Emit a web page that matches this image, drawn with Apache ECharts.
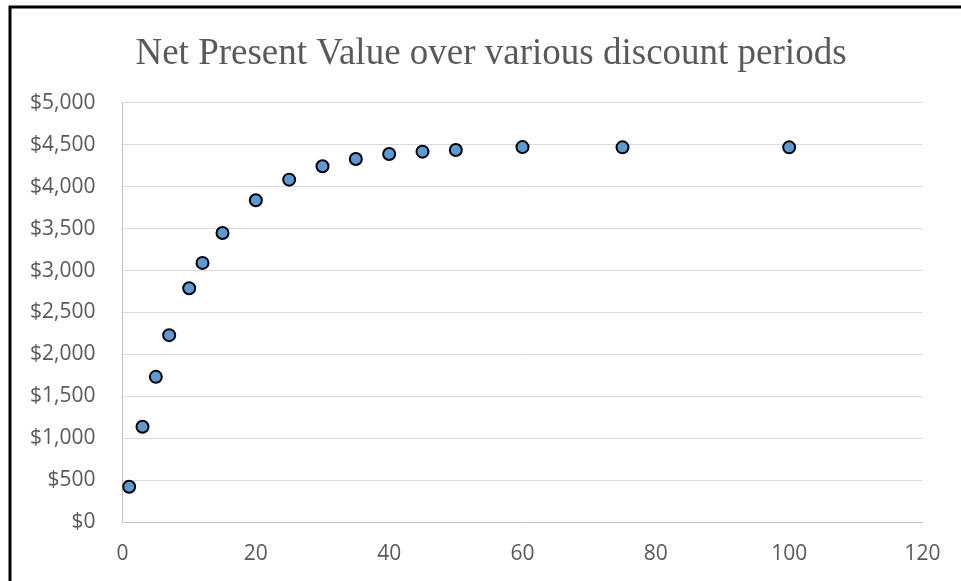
<!DOCTYPE html>
<html>
<head>
<meta charset="utf-8">
<script src="https://cdn.jsdelivr.net/npm/echarts@6/dist/echarts.min.js"></script>
<style>
  html, body { margin: 0; padding: 0; background: #ffffff; }
  #chart { width: 961px; height: 581px; }
</style>
</head>
<body>
<div id="chart"></div>
<script>
// Discount periods (years) and the resulting net present value
const periods = [1, 3, 5, 7, 10, 12, 15, 20, 25, 30, 35, 40, 45, 50, 60, 75, 100];
const npvValues = [424, 1138, 1733, 2230, 2789, 3091, 3448, 3837, 4083, 4242, 4329, 4388, 4417, 4436, 4471, 4468, 4468];

const chartTitle = 'Net Present Value over various discount periods';
const xTicks = { min: 0, max: 120, step: 20 };
const yTicks = { min: 0, max: 5000, step: 500 };

const points = periods.map((p, i) => [p, npvValues[i]]);

const labelColor = '#595959';
const labelFont = 'Open Sans';

const chart = echarts.init(document.getElementById('chart'), null, { renderer: 'canvas' });

chart.setOption({
  backgroundColor: '#ffffff',
  animation: false,
  title: {
    text: chartTitle,
    left: 486,
    textAlign: 'center',
    top: 31,
    textStyle: {
      fontFamily: 'Liberation Serif',
      fontSize: 37,
      fontWeight: 'normal',
      color: labelColor
    }
  },
  grid: {
    left: 122.5,
    right: 38.5,
    top: 102.7,
    bottom: 58.7,
    containLabel: false
  },
  xAxis: {
    type: 'value',
    min: xTicks.min,
    max: xTicks.max,
    interval: xTicks.step,
    axisLine: { show: true, lineStyle: { color: '#bfbfbf', width: 1 } },
    axisTick: { show: false },
    splitLine: { show: false },
    axisLabel: {
      color: labelColor,
      fontFamily: labelFont,
      fontSize: 21,
      margin: 21
    }
  },
  yAxis: {
    type: 'value',
    min: yTicks.min,
    max: yTicks.max,
    interval: yTicks.step,
    axisLine: { show: true, lineStyle: { color: '#bfbfbf', width: 1 } },
    axisTick: { show: false },
    splitLine: { show: true, lineStyle: { color: '#d9d9d9', width: 1 } },
    axisLabel: {
      color: labelColor,
      fontFamily: labelFont,
      fontSize: 21,
      margin: 27,
      formatter: v => '$' + v.toLocaleString('en-US')
    }
  },
  series: [{
    type: 'scatter',
    data: points,
    symbol: 'circle',
    symbolSize: 12,
    itemStyle: {
      color: '#5b9bd5',
      borderColor: '#000000',
      borderWidth: 2,
      opacity: 1
    },
    emphasis: { disabled: true }
  }],
  graphic: [{
    type: 'polyline',
    silent: true,
    shape: { points: [[10, 600], [10, 7], [970, 7]] },
    style: { stroke: '#000000', lineWidth: 3, fill: null }
  }]
});
</script>
</body>
</html>
